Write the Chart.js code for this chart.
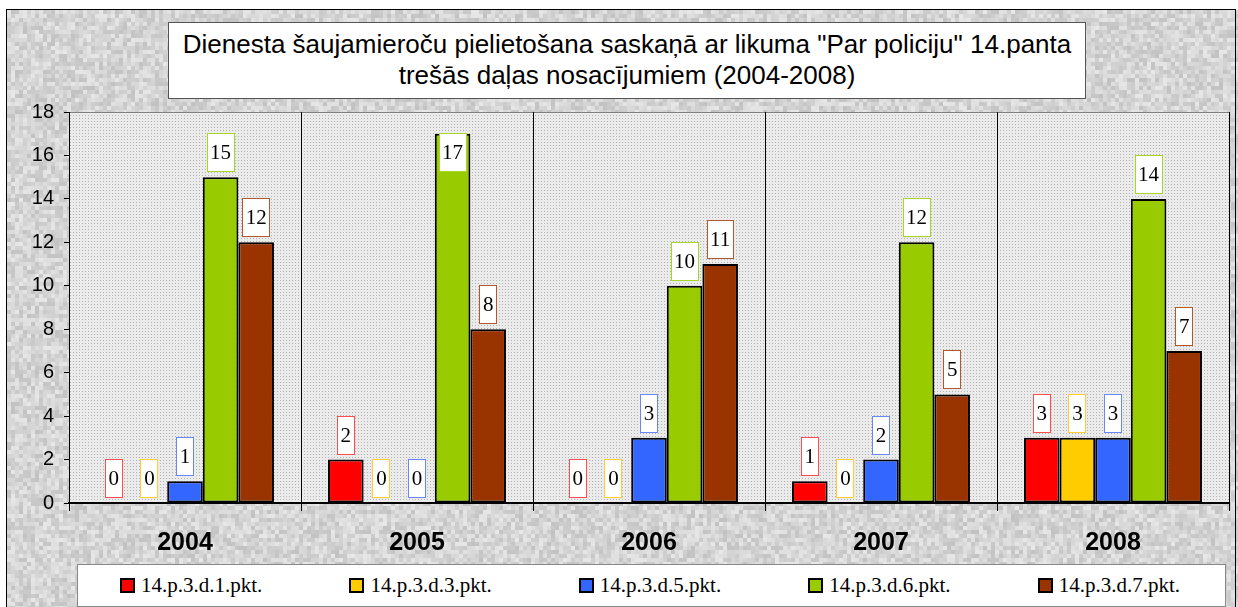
<!DOCTYPE html>
<html>
<head>
<meta charset="utf-8">
<script src="https://cdn.jsdelivr.net/npm/chart.js@4.4.0/dist/chart.umd.min.js"></script>
<style>
body { margin: 0; background: #fff; }
#wrap { position: relative; width: 1238px; height: 607px; overflow: hidden; }
#chart { position: absolute; left: 0; top: 0; }
#title {
    position: absolute; left: 168px; top: 22px; width: 918px; height: 77px;
    box-sizing: border-box; background: #fff; border: 1px solid #555;
    font-family: "Liberation Sans", Arial, sans-serif; font-size: 26px; line-height: 31px;
    text-align: center; padding-top: 6px; color: #000;
}
#legend {
    position: absolute; left: 77px; top: 564px; width: 1149px; height: 43px;
    box-sizing: border-box; background: #fff; border: 1px solid #888; display: flex;
}
.item {
    width: 230px; display: flex; align-items: center;
    font-family: "Liberation Serif", "Times New Roman", serif; font-size: 21px; color: #000;
}
.mark { width: 15px; height: 15px; box-sizing: border-box; border: 2px solid #000; margin-left: 42px; margin-right: 6px; }
</style>
</head>
<body>
<div id="wrap">
    <canvas id="chart" width="1238" height="607"></canvas>
    <div id="title">Dienesta šaujamieroču pielietošana saskaņā ar likuma "Par policiju" 14.panta<br>trešās daļas nosacījumiem (2004-2008)</div>
    <div id="legend"></div>
</div>
<script>
// data
var years = ['2004', '2005', '2006', '2007', '2008'];
var seriesNames = ['14.p.3.d.1.pkt.', '14.p.3.d.3.pkt.', '14.p.3.d.5.pkt.', '14.p.3.d.6.pkt.', '14.p.3.d.7.pkt.'];
var pkt1 = [0, 2, 0, 1, 3];
var pkt3 = [0, 0, 0, 0, 3];
var pkt5 = [1, 0, 3, 2, 3];
var pkt6 = [15, 17, 10, 12, 14];
var pkt7 = [12, 8, 11, 5, 7];
var yTicks = [0, 2, 4, 6, 8, 10, 12, 14, 16, 18];

var seriesData = [pkt1, pkt3, pkt5, pkt6, pkt7];
var seriesColors = ['#FF0000', '#FFCC00', '#3366FF', '#99CC00', '#993300'];
var labelBorders = ['#FF4D4D', '#FFCC33', '#6688FF', '#A8D626', '#B0592D'];

// grey mottled background (fixed hash, only texture)
function hash(i, j) {
    var h = (i * 374761393 + j * 668265263) | 0;
    h = Math.imul(h ^ (h >>> 13), 1274126177);
    return ((h ^ (h >>> 16)) >>> 0) / 4294967296;
}
var noise = document.createElement('canvas');
noise.width = 1238; noise.height = 607;
(function () {
    var c = noise.getContext('2d');
    c.fillStyle = '#fff';
    c.fillRect(0, 0, 1238, 607);
    for (var y = 10; y < 607; y += 4) {
        for (var x = 7; x < 1236; x += 4) {
            var v = 194 + Math.floor(hash(x, y) * 38);
            c.fillStyle = 'rgb(' + v + ',' + v + ',' + v + ')';
            c.fillRect(x, y, 4, 4);
        }
    }
})();
var dots = document.createElement('canvas');
dots.width = 3; dots.height = 3;
(function () {
    var c = dots.getContext('2d');
    c.fillStyle = '#ebebeb';
    c.fillRect(0, 0, 3, 3);
    c.fillStyle = '#b4b4b4';
    c.fillRect(1, 1, 1, 1);
})();

var backdrop = {
    id: 'backdrop',
    beforeDraw: function (chart) {
        var ctx = chart.ctx, a = chart.chartArea;
        ctx.save();
        ctx.drawImage(noise, 0, 0);
        ctx.strokeStyle = '#000';
        ctx.lineWidth = 1;
        ctx.strokeRect(6.5, 9.5, 1229, 620);
        ctx.fillStyle = ctx.createPattern(dots, 'repeat');
        ctx.fillRect(a.left, a.top, a.right - a.left, a.bottom - a.top);
        ctx.strokeStyle = '#808080';
        ctx.beginPath();
        ctx.moveTo(a.left, a.top + 0.5);
        ctx.lineTo(a.right, a.top + 0.5);
        ctx.stroke();
        ctx.restore();
    }
};

var valueBoxes = {
    id: 'valueBoxes',
    afterDatasetsDraw: function (chart) {
        var ctx = chart.ctx, top = chart.chartArea.top;
        ctx.save();
        ctx.font = '21px "Liberation Serif", "Times New Roman", serif';
        ctx.textAlign = 'center';
        ctx.textBaseline = 'middle';
        chart.data.datasets.forEach(function (ds, di) {
            chart.getDatasetMeta(di).data.forEach(function (bar, i) {
                var txt = String(ds.data[i]);
                var w = Math.round(ctx.measureText(txt).width) + 7, h = 39;
                var bx = Math.round(bar.x - w / 2);
                var by = Math.round(bar.y) - 5 - h;
                if (by < top) by = Math.round(bar.y) - 1;
                ctx.fillStyle = labelBorders[di];
                ctx.fillRect(bx, by, w, h);
                ctx.fillStyle = '#fff';
                ctx.fillRect(bx + 1, by + 1, w - 2, h - 2);
                ctx.fillStyle = '#000';
                ctx.fillText(txt, bar.x, by + h / 2 + 1);
            });
        });
        ctx.restore();
    }
};

var datasets = [];
for (var k = 0; k < seriesNames.length; k++) {
    datasets.push({
        label: seriesNames[k],
        data: seriesData[k],
        backgroundColor: seriesColors[k],
        borderColor: '#000',
        borderWidth: 2,
        borderSkipped: false,
        categoryPercentage: 0.767,
        barPercentage: 1.0
    });
}

var legendEl = document.getElementById('legend');
seriesNames.forEach(function (name, k) {
    var item = document.createElement('div');
    item.className = 'item';
    var mark = document.createElement('span');
    mark.className = 'mark';
    mark.style.background = seriesColors[k];
    item.appendChild(mark);
    item.appendChild(document.createTextNode(name));
    legendEl.appendChild(item);
});

new Chart(document.getElementById('chart'), {
    type: 'bar',
    data: { labels: years, datasets: datasets },
    plugins: [backdrop, valueBoxes],
    options: {
        responsive: false,
        animation: false,
        layout: { padding: { top: 112, left: 0, right: 9, bottom: 0 } },
        plugins: {
            legend: { display: false },
            title: { display: false },
            tooltip: { enabled: false }
        },
        scales: {
            x: {
                grid: {
                    offset: true,
                    color: function (c) { return c.index === years.length ? '#808080' : '#000'; },
                    lineWidth: 1,
                    tickLength: 8
                },
                border: { color: '#000', width: 2 },
                ticks: {
                    color: '#000',
                    padding: 17,
                    font: { family: '"Liberation Sans", Arial, sans-serif', size: 25, weight: 'bold' }
                },
                afterFit: function (s) { s.height = 104; }
            },
            y: {
                min: 0,
                max: 18,
                afterBuildTicks: function (s) { s.ticks = yTicks.map(function (v) { return { value: v }; }); },
                ticks: {
                    color: '#000',
                    padding: 10,
                    font: { family: '"Liberation Sans", Arial, sans-serif', size: 20 }
                },
                grid: { drawOnChartArea: false, tickLength: 5, color: '#000' },
                border: { color: '#000', width: 1 },
                afterFit: function (s) { s.width = 69; }
            }
        }
    }
});
</script>
</body>
</html>
